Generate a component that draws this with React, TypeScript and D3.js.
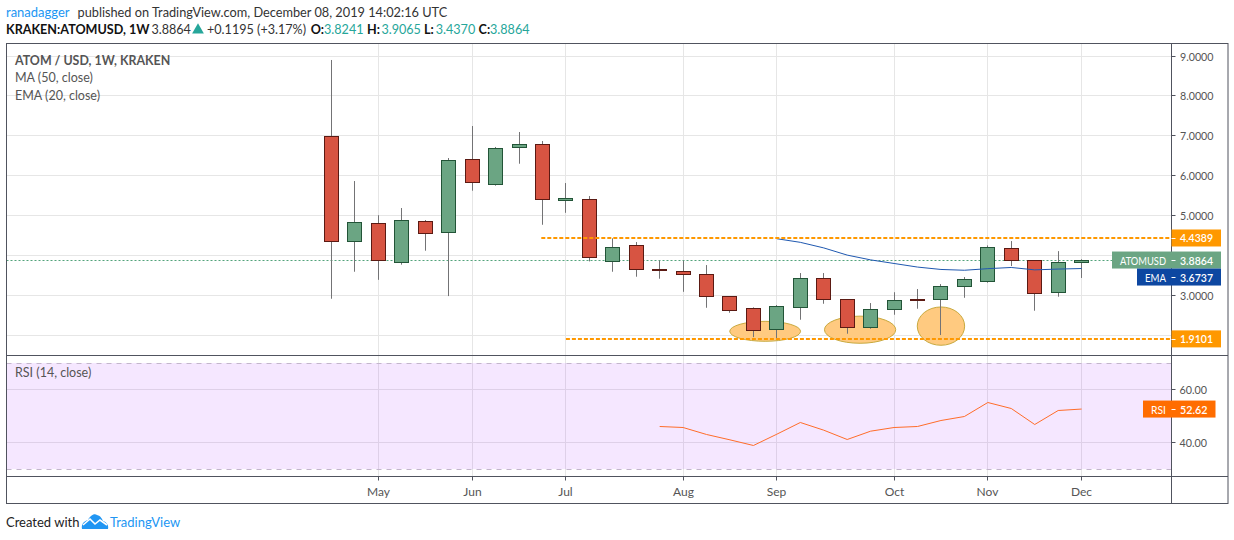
import * as d3 from "d3";
import React, { useEffect, useRef } from "react";

const WEEKS = [
  "2019-04-22", "2019-04-29", "2019-05-06", "2019-05-13", "2019-05-20", "2019-05-27", "2019-06-03",
  "2019-06-10", "2019-06-17", "2019-06-24", "2019-07-01", "2019-07-08", "2019-07-15", "2019-07-22",
  "2019-07-29", "2019-08-05", "2019-08-12", "2019-08-19", "2019-08-26", "2019-09-02", "2019-09-09",
  "2019-09-16", "2019-09-23", "2019-09-30", "2019-10-07", "2019-10-14", "2019-10-21", "2019-10-28",
  "2019-11-04", "2019-11-11", "2019-11-18", "2019-11-25", "2019-12-02",
];
const OPENS = [
  6.986, 4.354, 4.805, 3.827, 4.855, 4.58, 6.41, 5.783, 6.71, 6.777, 5.38, 5.407, 3.852, 4.253, 3.65, 3.6, 3.526,
  2.975, 2.674, 2.148, 2.69, 3.426, 2.9, 2.198, 2.649, 2.895, 2.9, 3.226, 3.343, 4.178, 3.877, 3.075, 3.8241,
];
const HIGHS = [
  8.9, 5.866, 5.01, 5.19, 4.889, 6.443, 7.245, 6.72, 7.095, 6.87, 5.816, 5.49, 4.43, 4.337, 3.869, 3.869, 3.76,
  2.975, 2.7, 2.758, 3.56, 3.56, 2.9, 2.808, 3.08, 3.16, 3.284, 3.46, 4.253, 4.362, 3.877, 4.11, 3.9065,
];
const LOWS = [
  2.916, 3.593, 3.39, 3.77, 4.12, 2.983, 5.624, 5.75, 6.3, 4.77, 5.07, 3.852, 3.593, 3.468, 3.418, 3.09, 2.69,
  2.565, 1.955, 1.914, 2.39, 2.79, 2.04, 2.164, 2.515, 2.666, 2.006, 2.94, 3.318, 3.735, 2.616, 2.967, 3.437,
];
const CLOSES = [
  4.354, 4.83, 3.869, 4.88, 4.554, 6.384, 5.833, 6.685, 6.777, 5.407, 5.42, 3.953, 4.203, 3.652, 3.62, 3.526, 2.975,
  2.624, 2.123, 2.724, 3.426, 2.9, 2.198, 2.649, 2.875, 2.87, 3.226, 3.4, 4.203, 3.877, 3.05, 3.827, 3.8864,
];

// EMA only shows up from September on
const EMA_WEEKS = WEEKS.slice(19);
const EMA_VALUES = [4.42, 4.33, 4.19, 4.01, 3.89, 3.8, 3.71, 3.65, 3.63, 3.67, 3.7, 3.64, 3.66, 3.6737];

const RSI_WEEKS = WEEKS.slice(14);
const RSI_VALUES = [
  46.04, 45.66, 43.02, 41.0, 38.87, 43.14, 47.55, 44.65, 41.13, 44.27, 45.66, 46.04, 48.3, 49.81, 55.09, 52.83,
  46.79, 52.07, 52.62,
];

const MONTH_WEEKS = ["2019-05-06", "2019-06-03", "2019-07-01", "2019-08-05", "2019-09-02", "2019-10-07", "2019-11-04", "2019-12-02"];
const MONTH_LABELS = ["May", "Jun", "Jul", "Aug", "Sep", "Oct", "Nov", "Dec"];
const PRICE_TICKS = [2, 3, 4, 5, 6, 7, 8, 9];
// 2 and 4 are covered by the value tags
const PRICE_LABELS = [3, 5, 6, 7, 8, 9];
const RSI_TICKS = [40, 60];

// support / resistance drawn by the author: level + week it starts
const LEVELS = [4.4389, 1.9101];
const LEVEL_STARTS = [8.95, 10];
const LAST_PRICE = 3.8864;
const LAST_EMA = 3.6737;
const LAST_RSI = 52.62;

// highlighted ellipses, in week index and price
const ELLIPSE_WEEK_CENTERS = [18.5, 22.55, 26.0];
const ELLIPSE_WEEK_RADII = [1.51, 1.52, 1.01];
const ELLIPSE_PRICE_CENTERS = [2.1, 2.14, 2.23];
const ELLIPSE_PRICE_RADII = [0.25, 0.34, 0.48];

const FONT = "Lato, 'Open Sans', sans-serif";
const UP = "#6ba583";
const DOWN = "#d75442";
const UP_BORDER = "#225437";
const DOWN_BORDER = "#5b1a13";
const WICK = "#737375";
const GRID = "#e6e6e6";
const BORDER = "#50535e";
const ORANGE = "#ff9800";
const TEAL = "#26a69a";
const BLUE = "#2196f3";

export default function App() {
  const svgRef = useRef<SVGSVGElement | null>(null);

  useEffect(() => {
    const svg = d3.select(svgRef.current);
    svg.selectAll("*").remove();

    const left = 6.5, right = 1228, axisX = 1171.5;
    const top = 43.5, split = 355.5, timeY = 476.5, bottom = 503.5;

    const x = d3.scalePoint<string>().domain(WEEKS).range([331.5, 1081.6]);
    const step = x.step();
    const ix = (i: number) => 331.5 + i * step;
    const y = d3.scaleLinear().domain([3, 9]).range([295.4, 56]);
    const rsiY = d3.scaleLinear().domain([40, 60]).range([442.5, 389.5]);
    const px = (v: number) => Math.floor(v) + 0.5;

    // grid
    const grid = svg.append("g").attr("stroke", GRID).attr("stroke-width", 1);
    grid.selectAll("line.h").data(PRICE_TICKS).join("line")
      .attr("x1", left).attr("x2", axisX)
      .attr("y1", d => px(y(d))).attr("y2", d => px(y(d)));
    grid.selectAll("line.v").data(MONTH_WEEKS).join("line")
      .attr("x1", d => px(x(d) ?? 0)).attr("x2", d => px(x(d) ?? 0))
      .attr("y1", top).attr("y2", timeY);
    grid.selectAll("line.r").data(RSI_TICKS).join("line")
      .attr("x1", left).attr("x2", axisX)
      .attr("y1", d => rsiY(d)).attr("y2", d => rsiY(d));

    // RSI band
    svg.append("rect")
      .attr("x", left).attr("y", rsiY(70))
      .attr("width", axisX - left).attr("height", rsiY(30) - rsiY(70))
      .attr("fill", "rgba(153,21,255,0.1)");
    svg.append("g").selectAll("line").data([30, 70]).join("line")
      .attr("x1", left).attr("x2", axisX)
      .attr("y1", d => Math.round(rsiY(d)) + 0.5).attr("y2", d => Math.round(rsiY(d)) + 0.5)
      .attr("stroke", "#c3b6cc").attr("stroke-dasharray", "5 5");

    // ellipses sit under the candles
    svg.append("g").selectAll("ellipse").data(ELLIPSE_WEEK_CENTERS).join("ellipse")
      .attr("cx", d => ix(d))
      .attr("cy", (_, i) => y(ELLIPSE_PRICE_CENTERS[i]))
      .attr("rx", (_, i) => ELLIPSE_WEEK_RADII[i] * step)
      .attr("ry", (_, i) => y(ELLIPSE_PRICE_CENTERS[i] - ELLIPSE_PRICE_RADII[i]) - y(ELLIPSE_PRICE_CENTERS[i]))
      .attr("fill", "#ffca80")
      .attr("stroke", "#c8a93e")
      .attr("stroke-width", 1);

    // last price line
    svg.append("line")
      .attr("x1", left).attr("x2", axisX)
      .attr("y1", px(y(LAST_PRICE))).attr("y2", px(y(LAST_PRICE)))
      .attr("stroke", "#53a37b").attr("stroke-dasharray", "2 2");

    // candles
    const candles = svg.append("g").selectAll("g").data(WEEKS).join("g");
    candles.append("line")
      .attr("x1", d => px(x(d) ?? 0)).attr("x2", d => px(x(d) ?? 0))
      .attr("y1", (_, i) => y(HIGHS[i])).attr("y2", (_, i) => y(LOWS[i]))
      .attr("stroke", WICK).attr("stroke-width", 1);
    candles.append("rect")
      .attr("x", d => px(x(d) ?? 0) - 7)
      .attr("width", 14)
      .attr("y", (_, i) => px(y(Math.max(OPENS[i], CLOSES[i]))))
      .attr("height", (_, i) => Math.max(1, Math.round(y(Math.min(OPENS[i], CLOSES[i])) - y(Math.max(OPENS[i], CLOSES[i])))))
      .attr("fill", (_, i) => (CLOSES[i] >= OPENS[i] ? UP : DOWN))
      .attr("stroke", (_, i) => (CLOSES[i] >= OPENS[i] ? UP_BORDER : DOWN_BORDER))
      .attr("stroke-width", 1);

    // EMA
    const emaLine = d3.line<number>().x((_, i) => x(EMA_WEEKS[i]) ?? 0).y(d => y(d));
    svg.append("path").attr("d", emaLine(EMA_VALUES)).attr("fill", "none").attr("stroke", "#1f58b0").attr("stroke-width", 1);

    // drawn levels
    svg.append("g").selectAll("line").data(LEVELS).join("line")
      .attr("x1", (_, i) => ix(LEVEL_STARTS[i])).attr("x2", axisX)
      .attr("y1", d => y(d)).attr("y2", d => y(d))
      .attr("stroke", ORANGE).attr("stroke-width", 2).attr("stroke-dasharray", "4 2");

    // RSI line
    const rsiLine = d3.line<number>().x((_, i) => x(RSI_WEEKS[i]) ?? 0).y(d => rsiY(d));
    svg.append("path").attr("d", rsiLine(RSI_VALUES)).attr("fill", "none").attr("stroke", "#ff6d2a").attr("stroke-width", 1);

    // frame
    const frame = svg.append("g").attr("stroke", BORDER).attr("stroke-width", 1).attr("fill", "none");
    frame.append("rect").attr("x", left).attr("y", top).attr("width", right - left).attr("height", bottom - top);
    frame.append("line").attr("x1", left).attr("x2", right).attr("y1", split).attr("y2", split);
    frame.append("line").attr("x1", left).attr("x2", right).attr("y1", timeY).attr("y2", timeY);
    frame.append("line").attr("x1", axisX).attr("x2", axisX).attr("y1", top).attr("y2", bottom);

    const text = (
      g: d3.Selection<any, any, any, any>,
      tx: number,
      ty: number,
      s: string,
      fill: string,
      size = 12,
      weight: string | number = 400,
      anchor = "start",
      length?: number
    ) => {
      const t = g.append("text")
        .attr("x", tx).attr("y", ty)
        .attr("fill", fill)
        .attr("font-size", size)
        .attr("font-weight", weight)
        .attr("text-anchor", anchor)
        .attr("font-family", FONT)
        .text(s);
      // the original font runs narrower than Lato on the axis
      if (length) t.attr("textLength", length).attr("lengthAdjust", "spacingAndGlyphs");
      return t;
    };

    // price axis
    const axis = svg.append("g");
    PRICE_TICKS.forEach(v => {
      axis.append("line").attr("x1", axisX).attr("x2", axisX + 4)
        .attr("y1", px(y(v))).attr("y2", px(y(v))).attr("stroke", BORDER);
    });
    PRICE_LABELS.forEach(v => {
      text(axis, 1180, y(v) + 4.5, v.toFixed(4), "#555", 12, 400, "start", 33.5);
    });
    RSI_TICKS.forEach(v => {
      axis.append("line").attr("x1", axisX).attr("x2", axisX + 4)
        .attr("y1", rsiY(v)).attr("y2", rsiY(v)).attr("stroke", BORDER);
      text(axis, 1179.5, rsiY(v) + 4.5, v.toFixed(2), "#555", 12, 400, "start", 27.5);
    });

    // month ticks
    MONTH_WEEKS.forEach((d, i) => {
      const mx = px(x(d) ?? 0);
      axis.append("line").attr("x1", mx).attr("x2", mx).attr("y1", timeY).attr("y2", timeY + 4).attr("stroke", BORDER);
      text(axis, mx, 495.5, MONTH_LABELS[i], "#555", 12, 400, "middle");
    });

    // value tags on the axis
    const tag = (
      v: number,
      yy: number,
      fill: string,
      name?: string,
      nameX?: number,
      nameLen?: number,
      digits = 4,
      tagRight = 1221
    ) => {
      const g = svg.append("g");
      const h = 17;
      g.append("rect").attr("x", nameX ?? axisX).attr("y", yy - h / 2).attr("width", tagRight - (nameX ?? axisX)).attr("height", h).attr("fill", fill);
      g.append("line").attr("x1", axisX).attr("x2", axisX + 4).attr("y1", Math.round(yy) + 0.5).attr("y2", Math.round(yy) + 0.5).attr("stroke", "#fff");
      text(g, 1180, yy + 4.5, v.toFixed(digits), "#fff", 12, 600, "start", digits === 4 ? 33 : 27.5);
      if (name) text(g, axisX - 5.5, yy + 4.5, name, "#fff", 12, 400, "end", nameLen);
    };
    tag(LEVELS[0], y(LEVELS[0]), ORANGE);
    tag(LEVELS[1], y(LEVELS[1]), ORANGE);
    tag(LAST_PRICE, y(LAST_PRICE), UP, "ATOMUSD", 1112, 46);
    tag(LAST_EMA, y(LAST_PRICE) + 17, "#0d47a1", "EMA", 1137, 21);
    tag(LAST_RSI, rsiY(LAST_RSI), "#ff6d00", "RSI", 1143, 15, 2, 1215.5);

    // pane legends
    const legend = svg.append("g");
    text(legend, 15, 65, "ATOM / USD, 1W, KRAKEN", "#555", 12.4, 700);
    text(legend, 15, 82, "MA (50, close)", "#555", 12.5);
    text(legend, 15, 99.5, "EMA (20, close)", "#555", 12.5);
    text(legend, 15, 377, "RSI (14, close)", "#555", 12.5);

    // publish header
    const head = svg.append("g");
    text(head, 6, 17, "ranadagger", BLUE, 13);
    text(head, 77.5, 17, "published on TradingView.com, December 08, 2019 14:02:16 UTC", "#333", 12.75);
    text(head, 6, 34, "KRAKEN:ATOMUSD, 1W", "#111", 12.6, 700);
    text(head, 151.4, 34, "3.8864", "#333", 12.6);
    head.append("path")
      .attr("d", d3.symbol(d3.symbolTriangle, 60)() ?? "")
      .attr("transform", "translate(198,30)")
      .attr("fill", TEAL);
    text(head, 207, 34, "+0.1195 (+3.17%)", "#333", 12.6);
    const ohlcLabels = ["O:", "H:", "L:", "C:"];
    const ohlcValues = [3.8241, 3.9065, 3.437, 3.8864];
    const labelXs = [310.7, 367, 424, 478.6];
    const valueXs = [324, 381.4, 435.7, 490];
    ohlcLabels.forEach((l, i) => {
      text(head, labelXs[i], 34, l, "#111", 12.6, 700);
      text(head, valueXs[i], 34, ohlcValues[i].toFixed(4), TEAL, 12.6);
    });

    // footer
    const foot = svg.append("g");
    text(foot, 6, 527, "Created with", "#222", 13);
    const logo = foot.append("g").attr("transform", "translate(82,514)");
    logo.append("path")
      .attr("d", "M0 15 C-1 10 2 7 6 6 C8 2 12 -1 15 1 C19 2 20 5 21 7 C25 8 27 12 26 15 Z")
      .attr("fill", BLUE);
    logo.append("path")
      .attr("d", "M1 11 L8 5 L13 10 L18 6 L25 11")
      .attr("fill", "none").attr("stroke", "#fff").attr("stroke-width", 1.6);
    text(foot, 110, 527, "TradingView", BLUE, 13);
  }, []);

  return (
    <svg
      ref={svgRef}
      width={1234}
      height={540}
      style={{ position: "absolute", left: 0, top: 0, display: "block", background: "#fff" }}
    />
  );
}
